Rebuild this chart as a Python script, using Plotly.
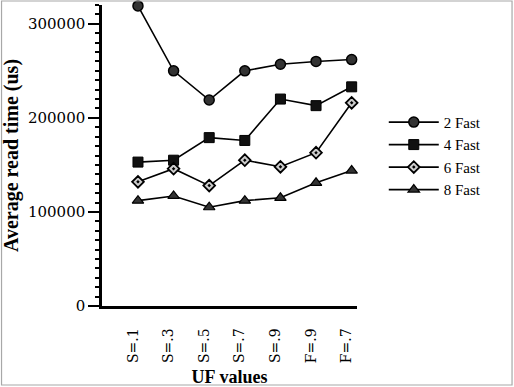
import plotly.graph_objects as go

categories = ["S=.1", "S=.3", "S=.5", "S=.7", "S=.9", "F=.9", "F=.7"]
fast2 = [319000, 250000, 219000, 250000, 257000, 260000, 262000]
fast4 = [153000, 155000, 179000, 176000, 220000, 213000, 233000]
fast6 = [132000, 146000, 128000, 155000, 148000, 163000, 216000]
fast8 = [112000, 117000, 105000, 112000, 115000, 131000, 144000]
series_names = ["2 Fast", "4 Fast", "6 Fast", "8 Fast"]
y_ticks = [0, 100000, 200000, 300000]

series = [fast2, fast4, fast6, fast8]
markers = [
    dict(symbol="circle", size=10, color="#333333", line=dict(color="black", width=1.5)),
    dict(symbol="square", size=10, color="#111111", line=dict(color="black", width=1)),
    dict(symbol="diamond-dot", size=9, color="#cccccc", line=dict(color="black", width=1.8)),
    dict(symbol="triangle-up", size=10, color="#333333", line=dict(color="black", width=1.2)),
]

fig = go.Figure()
for name, vals, mk in zip(series_names, series, markers):
    fig.add_trace(go.Scatter(
        x=categories, y=vals, name=name, mode="lines+markers",
        line=dict(color="black", width=1.6), marker=mk, cliponaxis=False,
    ))

fig.update_layout(
    width=514, height=387,
    margin=dict(l=102, r=157, t=5, b=81, autoexpand=False),
    paper_bgcolor="white", plot_bgcolor="white",
    font=dict(family="DejaVu Serif", color="black"),
    showlegend=True,
    legend=dict(
        x=1.105, y=0.665, xanchor="left", yanchor="top",
        font=dict(family="Liberation Serif", size=15, color="black"),
        itemwidth=50, bgcolor="rgba(0,0,0,0)", tracegroupgap=0,
    ),
    shapes=[dict(
        type="rect", xref="paper", yref="paper", layer="above",
        x0=-0.394, x1=1.608, y0=-0.2625, y1=1.0133,
        line=dict(color="#a8a8a8", width=1.2),
    )],
)

fig.update_xaxes(
    type="category", range=[-1.01, 6.15],
    showline=True, linecolor="black", linewidth=2.5,
    ticks="", tickangle=-90, ticklabelstandoff=14, ticklabelshift=-5,
    tickfont=dict(family="DejaVu Serif", size=14, color="black"),
    showgrid=False, zeroline=False, automargin=False,
    title=dict(text="<b>UF values</b>", standoff=10,
               font=dict(family="Liberation Serif", size=18, color="black")),
)
fig.update_yaxes(
    range=[0, 320000], tickvals=y_ticks, tickformat="d",
    showline=True, linecolor="black", linewidth=2.5,
    ticks="outside", ticklen=11, tickwidth=2, tickcolor="black",
    minor=dict(dtick=10000, ticks="outside", ticklen=4, tickwidth=1.5, tickcolor="black"),
    tickfont=dict(family="DejaVu Serif", size=15, color="black"),
    showgrid=False, zeroline=False, automargin=False,
    title=dict(text="<b>Average read time (us)</b>", standoff=6,
               font=dict(family="Liberation Serif", size=20, color="black")),
)

fig.write_html("out.html", config={"displayModeBar": False},
               post_script="document.body.style.margin='0';")
